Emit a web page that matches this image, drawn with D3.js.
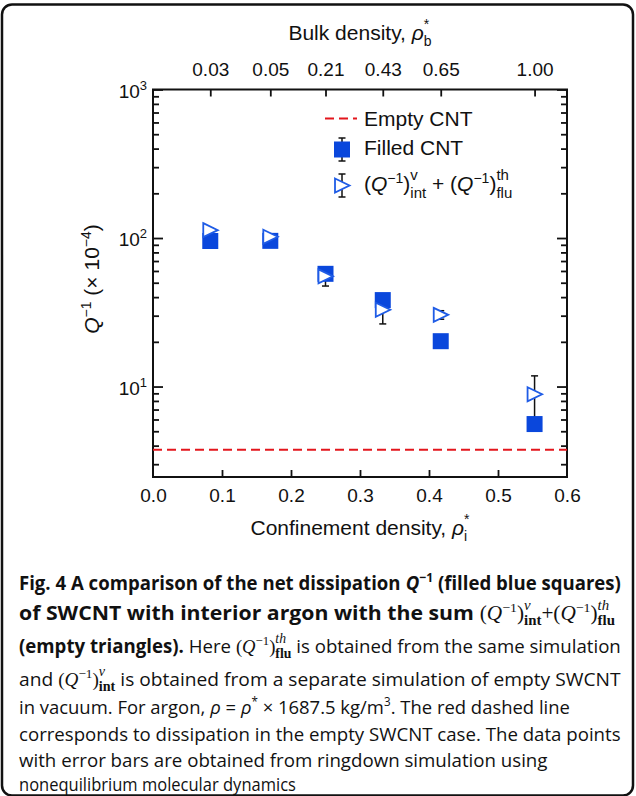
<!DOCTYPE html>
<html><head><meta charset="utf-8">
<script src="https://cdn.jsdelivr.net/npm/d3@7"></script>
<style>body{margin:0;background:#fff}svg{display:block}svg text{white-space:pre}</style>
</head><body>
<script>
// ---- data ----
const confinement = [0.083, 0.17, 0.25, 0.333, 0.417, 0.553];
const bulkLabels = ["0.03", "0.05", "0.21", "0.43", "0.65", "1.00"];
const filledQ = [95.5, 95.7, 57.4, 38.2, 20.2, 5.59];
const filledErr = [2, 2, 3, 3, 1.5, 0.5];
const sumQ = [113, 102, 55.2, 32.9, 30.4, 8.87];
const sumErr = [3, 2, 7.7, 6.5, 2, 2.93];
const emptyQ = 3.75;
const xTicks = [0, 0.1, 0.2, 0.3, 0.4, 0.5, 0.6];
const yMajor = [10, 100, 1000];
const yMinor = [3,4,5,6,7,8,9,20,30,40,50,60,70,80,90,200,300,400,500,600,700,800,900];

(function () {
const W = 636, H = 796;
const svg = d3.select("body").append("svg").attr("width", W).attr("height", H);
const FONT = "'Liberation Sans', Arial, Helvetica, sans-serif";
const CAP = "'Open Sans', 'Noto Sans', sans-serif";
const SERIF = "'Liberation Serif', 'DejaVu Serif', serif";

const x = d3.scaleLinear().domain([0, 0.6]).range([153, 567]);
const y = d3.scaleLog().domain([2.46, 1000]).range([477, 89.5]);
const BLUE = "#0a47dc", BLUE2 = "#1f5ce6", RED = "#e3161d";

// outer rounded border
svg.append("rect").attr("x", 2).attr("y", 4.5).attr("width", 631).attr("height", 791)
  .attr("rx", 10).attr("fill", "none").attr("stroke", "#111").attr("stroke-width", 2.5);

function rich(g, segs, opts) {
  const grp = g.append("g");
  let cx = 0, lastStart = 0;
  segs.forEach(s => {
    const start = s.stack ? lastStart : cx;
    const t = grp.append("text").attr("x", start).attr("y", s.dy || 0).text(s.t)
      .attr("font-family", s.family || opts.family)
      .attr("font-size", s.size || opts.size)
      .attr("font-style", s.style || "normal")
      .attr("font-weight", s.weight || opts.weight || "normal")
      .style("white-space", "pre")
      .attr("fill", "#111");
    const w = t.node().getComputedTextLength();
    if (s.stack) cx = Math.max(cx, start + w);
    else { lastStart = start; cx = start + w; }
  });
  let sx = 1;
  if (opts.width) sx = opts.width / cx;
  let tx = opts.x;
  if (opts.anchor === "middle") tx = opts.x - cx * sx / 2;
  if (opts.anchor === "end") tx = opts.x - cx * sx;
  grp.attr("transform", `translate(${tx},${opts.y}) scale(${sx},1)`);
  return {grp, w: cx};
}

// ---- frame & axes ----
const ax = svg.append("g");
ax.append("rect").attr("x", x(0)).attr("y", y(1000)).attr("width", x(0.6) - x(0))
  .attr("height", y(2.46) - y(1000)).attr("fill", "none").attr("stroke", "#111").attr("stroke-width", 2);

const axB = d3.axisBottom(x).tickValues(xTicks).tickSize(-7).tickPadding(12).tickFormat(d3.format(".1f"));
const gb = ax.append("g").attr("transform", `translate(0,${y(2.46)})`).call(axB);
const axT = d3.axisTop(x).tickValues(confinement).tickSize(-7).tickPadding(14).tickFormat((d, i) => bulkLabels[i]);
ax.append("g").attr("transform", `translate(0,${y(1000)})`).call(axT);
const axL = d3.axisLeft(y).tickValues(yMajor).tickSize(-10).tickFormat("");
const axLm = d3.axisLeft(y).tickValues(yMinor).tickSize(-6).tickFormat("");
const axR = d3.axisRight(y).tickValues(yMajor).tickSize(-10).tickFormat("");
const axRm = d3.axisRight(y).tickValues(yMinor).tickSize(-6).tickFormat("");
ax.append("g").attr("transform", `translate(${x(0)},0)`).call(axL);
ax.append("g").attr("transform", `translate(${x(0)},0)`).call(axLm);
ax.append("g").attr("transform", `translate(${x(0.6)},0)`).call(axR);
ax.append("g").attr("transform", `translate(${x(0.6)},0)`).call(axRm);
ax.selectAll(".domain").remove();
ax.selectAll(".tick line").attr("stroke", "#111").attr("stroke-width", 1.8);
ax.selectAll(".tick text").attr("font-family", FONT).attr("font-size", 19).attr("fill", "#111");
gb.selectAll(".tick line").filter(d => d === 0 || d === 0.6).remove();

yMajor.forEach(v => {
  const e = Math.round(Math.log10(v));
  rich(svg, [{t: "10"}, {t: String(e), size: 13, dy: -8}],
    {x: 147, y: y(v) + 8, anchor: "end", family: FONT, size: 19});
});

rich(svg, [{t: "Bulk density, "}, {t: "ρ", style: "italic"}, {t: "b", size: 14, dy: 6},
  {t: "*", size: 14, dy: -11, stack: true}], {x: 360, y: 40, anchor: "middle", family: FONT, size: 21});
rich(svg, [{t: "Confinement density, "}, {t: "ρ", style: "italic"}, {t: "i", size: 14, dy: 6},
  {t: "*", size: 14, dy: -11, stack: true}], {x: 360, y: 535, anchor: "middle", family: FONT, size: 21});
{
  const r = rich(svg, [{t: "Q", style: "italic"}, {t: "−1", size: 14, dy: -8}, {t: " (× 10"},
    {t: "−4", size: 14, dy: -8}, {t: ")"}], {x: 0, y: 0, family: FONT, size: 21});
  r.grp.attr("transform", `translate(99,${279 + r.w / 2}) rotate(-90)`);
}

// ---- marks ----
const plot = svg.append("g");
plot.append("line").attr("x1", x(0)).attr("x2", x(0.6)).attr("y1", y(emptyQ)).attr("y2", y(emptyQ))
  .attr("stroke", RED).attr("stroke-width", 2).attr("stroke-dasharray", "9,5");

function errbar(g, cx, v, e) {
  const y1 = y(v - e), y2 = y(v + e);
  g.append("line").attr("x1", cx).attr("x2", cx).attr("y1", y1).attr("y2", y2)
    .attr("stroke", "#111").attr("stroke-width", 1.5);
  [y1, y2].forEach(yy => g.append("line").attr("x1", cx - 3.5).attr("x2", cx + 3.5)
    .attr("y1", yy).attr("y2", yy).attr("stroke", "#111").attr("stroke-width", 1.5));
}
confinement.forEach((c, i) => errbar(plot, x(c), sumQ[i], sumErr[i]));
confinement.forEach((c, i) => errbar(plot, x(c), filledQ[i], filledErr[i]));

const SQ = 16;
plot.selectAll("rect.sq").data(confinement).join("rect").attr("class", "sq")
  .attr("x", d => x(d) - SQ / 2).attr("y", (d, i) => y(filledQ[i]) - SQ / 2)
  .attr("width", SQ).attr("height", SQ).attr("fill", BLUE);

const tri = (cx, cy) => `M${cx - 7},${cy - 7}L${cx + 7.5},${cy}L${cx - 7},${cy + 7}Z`;
plot.selectAll("path.tri").data(confinement).join("path").attr("class", "tri")
  .attr("d", (d, i) => tri(x(d), y(sumQ[i])))
  .attr("fill", "#fff").attr("stroke", BLUE2).attr("stroke-width", 1.8);

// ---- legend ----
const lg = svg.append("g");
lg.append("line").attr("x1", 325).attr("x2", 357).attr("y1", 118.5).attr("y2", 118.5)
  .attr("stroke", RED).attr("stroke-width", 2).attr("stroke-dasharray", "9,5");
rich(lg, [{t: "Empty CNT"}], {x: 364, y: 126, family: FONT, size: 21});
lg.append("line").attr("x1", 342).attr("x2", 342).attr("y1", 138).attr("y2", 161).attr("stroke", "#111").attr("stroke-width", 1.5);
[138, 161].forEach(yy => lg.append("line").attr("x1", 338.5).attr("x2", 345.5).attr("y1", yy).attr("y2", yy).attr("stroke", "#111").attr("stroke-width", 1.5));
lg.append("rect").attr("x", 334).attr("y", 141.5).attr("width", 16).attr("height", 16).attr("fill", BLUE);
rich(lg, [{t: "Filled CNT"}], {x: 364, y: 155, family: FONT, size: 21});
lg.append("line").attr("x1", 342).attr("x2", 342).attr("y1", 174).attr("y2", 197).attr("stroke", "#111").attr("stroke-width", 1.5);
[174, 197].forEach(yy => lg.append("line").attr("x1", 338.5).attr("x2", 345.5).attr("y1", yy).attr("y2", yy).attr("stroke", "#111").attr("stroke-width", 1.5));
lg.append("path").attr("d", tri(342, 185.5)).attr("fill", "#fff").attr("stroke", BLUE2).attr("stroke-width", 1.8);
rich(lg, [{t: "("}, {t: "Q", style: "italic"}, {t: "−1", size: 14, dy: -8}, {t: ")"},
  {t: "v", size: 15, dy: -11}, {t: "int", size: 15, dy: 7, stack: true},
  {t: " + ("}, {t: "Q", style: "italic"}, {t: "−1", size: 14, dy: -8}, {t: ")"},
  {t: "th", size: 15, dy: -11}, {t: "flu", size: 15, dy: 7, stack: true}],
  {x: 364, y: 191, family: FONT, size: 21});

// ---- caption ----
const cap = svg.append("g");
const L = 19;
const mq = (sup, sub) => [
  {t: "(", family: SERIF, weight: "normal"}, {t: "Q", family: SERIF, style: "italic", weight: "normal"},
  {t: "−1", family: SERIF, size: 13, dy: -8, weight: "normal"}, {t: ")", family: SERIF, weight: "normal"},
  {t: sup, family: SERIF, size: 14, dy: -10, style: "italic", weight: "normal"},
  {t: sub, family: SERIF, size: 14, dy: 5, weight: "bold", stack: true}];
rich(cap, [{t: "Fig. 4 A comparison of the net dissipation "}, {t: "Q", style: "italic"},
  {t: "−1", size: 13, dy: -8}, {t: " (filled blue squares)"}],
  {x: L, y: 590, family: CAP, size: 20, weight: "bold", width: 602});
rich(cap, [{t: "of SWCNT with interior argon with the sum "}, ...mq("ν", "int"),
  {t: "+", family: SERIF, weight: "normal"}, ...mq("th", "flu")],
  {x: L, y: 620, family: CAP, size: 20, weight: "bold", width: 596});
rich(cap, [{t: "(empty triangles).", weight: "bold"}, {t: " Here "}, ...mq("th", "flu"),
  {t: " is obtained from the same simulation"}],
  {x: L, y: 653, family: CAP, size: 19, width: 602});
rich(cap, [{t: "and "}, ...mq("ν", "int"), {t: " is obtained from a separate simulation of empty SWCNT"}],
  {x: L, y: 686, family: CAP, size: 19, width: 602});
rich(cap, [{t: "in vacuum. For argon, "}, {t: "ρ", style: "italic"}, {t: " = "}, {t: "ρ", style: "italic"},
  {t: "*", size: 12, dy: -8}, {t: " × 1687.5 kg/m"}, {t: "3", size: 12, dy: -8}, {t: ". The red dashed line"}],
  {x: L, y: 714, family: CAP, size: 19, width: 551});
rich(cap, [{t: "corresponds to dissipation in the empty SWCNT case. The data points"}],
  {x: L, y: 741, family: CAP, size: 19, width: 602});
rich(cap, [{t: "with error bars are obtained from ringdown simulation using"}],
  {x: L, y: 767, family: CAP, size: 19, width: 529});
rich(cap, [{t: "nonequilibrium molecular dynamics"}],
  {x: L, y: 791, family: CAP, size: 19, width: 277});
})();
</script>
</body></html>
